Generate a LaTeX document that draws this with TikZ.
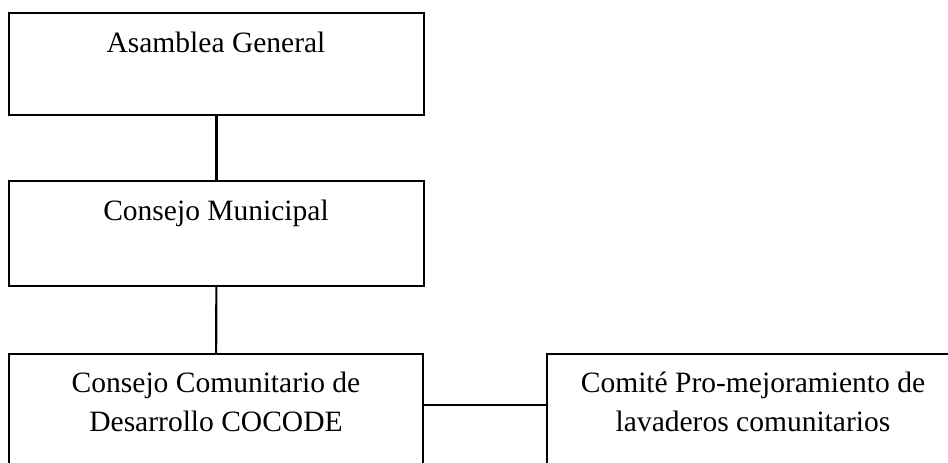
\documentclass[tikz,border=0pt]{standalone}
\usepackage{fontspec}
\setmainfont{Liberation Serif}
\usetikzlibrary{positioning}
\begin{document}
\begin{tikzpicture}
[x=0.02cm,y=-0.02cm,
 box/.style={draw,rectangle,line width=1.2pt,inner sep=0pt,minimum width=8.3cm},
 txt/.style={font=\fontsize{16.8}{22.1}\selectfont,align=center,inner sep=0pt,anchor=base},
 ln/.style={line width=1.2pt}]
\useasboundingbox (0,0) rectangle (948,463);
\clip (0,0) rectangle (948,463);

\node [box][minimum height=2.04cm] at (216.5,64) (AG) {};
\node [box][minimum height=2.1cm] at (216.5,233.5) (CM) {};
\node [box][minimum width=8.28cm,minimum height=2.4cm] at (216,414) (CC) {};
\node [box][minimum width=8.28cm,minimum height=2.4cm] at (754,414) (CP) {};

\node [txt] at (216,52) (tAG) {Asamblea General};
\node [txt] at (216,220) (tCM) {Consejo Municipal};
\node [txt] at (216,431) (tCC) {Consejo Comunitario de\\Desarrollo COCODE};
\node [txt] at (753,431) (tCP) {Comité Pro-mejoramiento de\\lavaderos comunitarios};

\draw [ln] (AG) -- (CM);
\draw [ln] (CM) -- (CC);
\draw [ln] ([yshift=0.18cm]CC.east) -- ([yshift=0.18cm]CP.west);
\end{tikzpicture}
\end{document}
